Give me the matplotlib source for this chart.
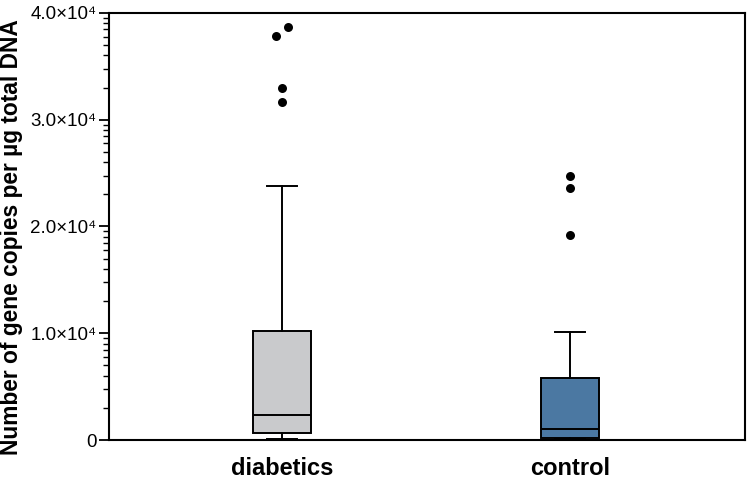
import matplotlib
matplotlib.use('Agg')
import matplotlib.pyplot as plt
import numpy as np

plt.rcParams['font.family'] = ['Liberation Sans', 'DejaVu Sans']

# data
groups = ['diabetics', 'control']
whisker_low = [120, 80]
q1 = [680, 190]
median = [2350, 1050]
q3 = [10250, 5850]
whisker_high = [23750, 10100]
outliers = [[38650, 37800, 32950, 31700], [24700, 23600, 19200]]
outlier_dx = [[0.02, -0.02, 0.0, 0.0], [0.0, 0.0, 0.0]]
box_colors = ['#c9cacc', '#4b78a2']

yticks = [0, 10000, 20000, 30000, 40000]
yticklabels = ['0', '1.0×10⁴', '2.0×10⁴', '3.0×10⁴', '4.0×10⁴']

fig = plt.figure(figsize=(7.5, 4.8), dpi=100)
ax = fig.add_axes([0.1453, 0.0833, 0.848, 0.8897])

stats = []
for i, g in enumerate(groups):
    stats.append(dict(label=g, whislo=whisker_low[i], q1=q1[i], med=median[i],
                      q3=q3[i], whishi=whisker_high[i], fliers=[]))

positions = [1, 2]
bp = ax.bxp(stats, positions=positions, widths=0.2, patch_artist=True,
            showfliers=False,
            boxprops=dict(linewidth=1.4, edgecolor='black'),
            medianprops=dict(color='black', linewidth=1.4),
            whiskerprops=dict(color='black', linewidth=1.4),
            capprops=dict(color='black', linewidth=1.4),
            capwidths=0.105)
for patch, c in zip(bp['boxes'], box_colors):
    patch.set_facecolor(c)

for p, ys, dx in zip(positions, outliers, outlier_dx):
    ax.scatter(np.array(dx) + p, ys, s=42, color='black', zorder=3, linewidths=0)

ax.set_xlim(0.399, 2.608)
ax.set_ylim(0, 40000)

ax.set_yticks(yticks)
ax.set_yticklabels(yticklabels, fontsize=13.5)
minor = [k * 10000 + np.log10(m) * 10000 for k in range(4) for m in range(2, 10)]
ax.set_yticks(minor, minor=True)
ax.tick_params(axis='y', which='major', direction='out', length=7, width=1.3, pad=2)
ax.tick_params(axis='y', which='minor', direction='out', length=4, width=1.0)
ax.tick_params(axis='x', length=0, pad=12)
ax.set_xticks(positions)
ax.set_xticklabels(groups, fontsize=17, fontweight='bold')

for s in ax.spines.values():
    s.set_linewidth(1.5)

ax.set_ylabel('Number of gene copies per µg total DNA', fontsize=16.4,
              fontweight='bold')
ax.yaxis.set_label_coords(-0.135, 0.475)

fig.savefig('out.png', dpi=100)
